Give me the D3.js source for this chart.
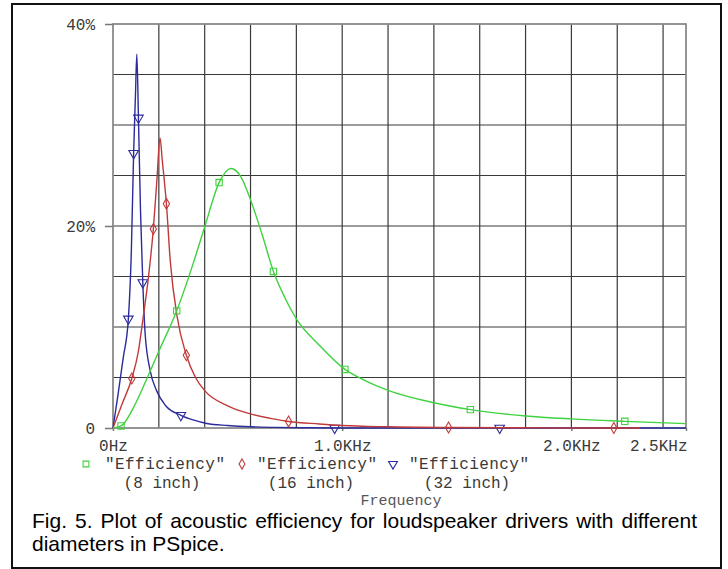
<!DOCTYPE html>
<html>
<head>
<meta charset="utf-8">
<script src="https://cdn.jsdelivr.net/npm/d3@7"></script>
<style>
  body { margin: 0; background: #fff; }
  svg { display: block; }
</style>
</head>
<body>
<div id="viz"></div>
<script>
// frequencies in Hz, efficiency in %
var freq8 = [0, 35, 100, 150, 200, 278, 350, 400, 463, 514, 560, 600, 650, 700, 750, 800, 900, 1012, 1100, 1200, 1400, 1559, 1800, 2000, 2233, 2500];
var eff8  = [0, 0.2, 2.5, 5.0, 7.6, 11.6, 16.3, 19.9, 24.3, 25.7, 24.8, 22.6, 19.2, 15.5, 12.9, 10.8, 8.2, 5.8, 4.7, 3.73, 2.5, 1.82, 1.19, 0.9, 0.66, 0.43];

var freq16 = [0, 40, 82, 110, 132, 155, 176, 192, 205, 215, 233, 250, 280, 320, 360, 400, 500, 600, 700, 766, 900, 1000, 1200, 1464, 1800, 2185, 2300];
var eff16  = [0, 2.4, 4.9, 7.5, 11.0, 15.0, 19.7, 24.7, 28.75, 26.5, 22.2, 16.5, 11.0, 7.2, 5.0, 3.7, 2.2, 1.4, 0.9, 0.65, 0.4, 0.25, 0.12, 0.05, 0.02, 0, 0];

var freq32 = [0, 20, 45, 67, 80, 90, 98, 104, 111, 120, 130, 140, 162, 190, 230, 296, 350, 409, 500, 600, 700, 850, 1000, 1700, 2500];
var eff32  = [0, 3.0, 7.0, 10.8, 17.5, 27.2, 33.0, 37.0, 30.7, 21.5, 14.4, 9.4, 5.7, 3.7, 2.2, 1.26, 0.8, 0.45, 0.25, 0.12, 0.06, 0.02, 0, 0, 0];

// marker positions [Hz, %]
var marks8  = [[35, 0.2], [278, 11.6], [463, 24.3], [700, 15.5], [1012, 5.8], [1559, 1.82], [2233, 0.66]];
var marks16 = [[82, 4.9], [176, 19.7], [233, 22.2], [320, 7.2], [766, 0.65], [1464, 0.05], [2185, 0]];
var marks32 = [[67, 10.8], [90, 27.2], [111, 30.7], [130, 14.4], [296, 1.26], [967, 0], [1687, 0]];

var xTicks = [0, 1000, 2000, 2500];
var xTickLabels = ['0Hz', '1.0KHz', '2.0KHz', '2.5KHz'];
var yTicks = [0, 20, 40];
var yTickLabels = ['0', '20%', '40%'];

var legendNames = ['"Efficiency"', '"Efficiency"', '"Efficiency"'];
var legendSizes = ['(8 inch)', '(16 inch)', '(32 inch)'];

var width = 728,
    height = 569;

var x = d3.scaleLinear().domain([0, 2500]).range([113, 686]);
var y = d3.scaleLinear().domain([0, 40]).range([428, 24]);

var svg = d3.select('#viz').append('svg')
    .attr('width', width)
    .attr('height', height)
    .style('background', '#fff');

// outer frame
svg.append('rect')
    .attr('x', 12).attr('y', 4)
    .attr('width', 709).attr('height', 564)
    .attr('fill', 'none')
    .attr('stroke', '#111')
    .attr('stroke-width', 2);

// grid
var grid = svg.append('g');
grid.selectAll('line.v').data(d3.range(200, 2500, 200))
    .enter().append('line')
    .attr('x1', function(d) { return x(d); })
    .attr('x2', function(d) { return x(d); })
    .attr('y1', y(40)).attr('y2', y(0))
    .attr('stroke', '#3a3a3a')
    .attr('stroke-width', 1.2);

grid.selectAll('line.h').data(d3.range(5, 40, 5))
    .enter().append('line')
    .attr('x1', x(0)).attr('x2', x(2500))
    .attr('y1', function(d) { return y(d); })
    .attr('y2', function(d) { return y(d); })
    .attr('stroke', '#3a3a3a')
    .attr('stroke-width', 1.2);

// plot frame
svg.append('rect')
    .attr('x', x(0)).attr('y', y(40))
    .attr('width', x(2500) - x(0)).attr('height', y(0) - y(40))
    .attr('fill', 'none')
    .attr('stroke', '#8a8a8a')
    .attr('stroke-width', 1.8);

// axes
var yAxis = d3.axisLeft(y)
    .tickValues(yTicks)
    .tickSize(8)
    .tickPadding(10)
    .tickFormat(function(d, i) { return yTickLabels[i]; });

var gy = svg.append('g')
    .attr('transform', 'translate(' + x(0) + ',0)')
    .call(yAxis);

var xAxis = d3.axisBottom(x)
    .tickValues(xTicks)
    .tickSize(3)
    .tickPadding(9)
    .tickFormat(function(d, i) { return xTickLabels[i]; });

var gx = svg.append('g')
    .attr('transform', 'translate(0,' + y(0) + ')')
    .call(xAxis);

[gx, gy].forEach(function(g) {
    g.select('.domain').remove();
    g.selectAll('line').attr('stroke', '#777').attr('stroke-width', 1.5);
    g.selectAll('text')
        .attr('fill', '#3a3a3a')
        .style('font-family', '"Liberation Mono", "Courier New", monospace')
        .style('font-size', '16px');
});
gx.selectAll('text').filter(function(d) { return d === 2500; })
    .attr('text-anchor', 'end')
    .attr('x', 1);

// curves
var series = [
    { f: freq32, e: eff32, marks: marks32, color: '#2b2b9c', sym: d3.symbolTriangle, rot: 180 },
    { f: freq16, e: eff16, marks: marks16, color: '#c03a3a', sym: d3.symbolDiamond, rot: 0 },
    { f: freq8,  e: eff8,  marks: marks8,  color: '#3fd23f', sym: d3.symbolSquare, rot: 0 }
];

var line = d3.line()
    .x(function(d) { return x(d[0]); })
    .y(function(d) { return y(d[1]); })
    .curve(d3.curveMonotoneX);

series.forEach(function(s) {
    var pts = s.f.map(function(f, i) { return [f, s.e[i]]; });
    svg.append('path')
        .datum(pts)
        .attr('d', line)
        .attr('fill', 'none')
        .attr('stroke', s.color)
        .attr('stroke-width', 1.4);

    svg.selectAll(null).data(s.marks)
        .enter().append('path')
        .attr('d', d3.symbol().type(s.sym).size(s.sym === d3.symbolDiamond ? 34 : 40))
        .attr('transform', function(d) {
            return 'translate(' + x(d[0]) + ',' + y(d[1]) + ') rotate(' + s.rot + ')';
        })
        .attr('fill', 'none')
        .attr('stroke', s.color)
        .attr('stroke-width', 1.1);
});

// legend
var mono = '"Liberation Mono", "Courier New", monospace';
var legColors = ['#3fd23f', '#c03a3a', '#2b2b9c'];
var legSyms = [d3.symbolSquare, d3.symbolDiamond, d3.symbolTriangle];
var legSymX = [86, 242, 393];
var legTextX = [105, 257, 409];
var legSizeX = [162, 311, 467];

legendNames.forEach(function(name, i) {
    svg.append('path')
        .attr('d', d3.symbol().type(legSyms[i]).size(i === 1 ? 30 : 34))
        .attr('transform', 'translate(' + legSymX[i] + ',464)' + (i === 2 ? ' rotate(180)' : ''))
        .attr('fill', 'none')
        .attr('stroke', legColors[i])
        .attr('stroke-width', 1.1);
    svg.append('text')
        .attr('x', legTextX[i]).attr('y', 469)
        .attr('textLength', 120)
        .attr('fill', '#3a3a3a')
        .style('font-family', mono)
        .style('font-size', '16px')
        .text(name);
    svg.append('text')
        .attr('x', legSizeX[i]).attr('y', 488)
        .attr('text-anchor', 'middle')
        .attr('fill', '#3a3a3a')
        .style('font-family', mono)
        .style('font-size', '16px')
        .text(legendSizes[i]);
});

svg.append('text')
    .attr('x', 401).attr('y', 505)
    .attr('text-anchor', 'middle')
    .attr('fill', '#555')
    .style('font-family', mono)
    .style('font-size', '15px')
    .text('Frequency');

// caption, first line justified by word spacing
var sans = '"Liberation Sans", Arial, sans-serif';
var cap1 = svg.append('text')
    .attr('x', 32).attr('y', 528)
    .attr('fill', '#000')
    .style('font-family', sans)
    .style('font-size', '21px')
    .text('Fig. 5. Plot of acoustic efficiency for loudspeaker drivers with different');
var natural = cap1.node().getComputedTextLength();
var gaps = cap1.text().split(' ').length - 1;
cap1.style('word-spacing', Math.max(0, (665 - natural) / gaps) + 'px');

svg.append('text')
    .attr('x', 32).attr('y', 551)
    .attr('fill', '#000')
    .style('font-family', sans)
    .style('font-size', '21px')
    .text('diameters in PSpice.');
</script>
</body>
</html>
